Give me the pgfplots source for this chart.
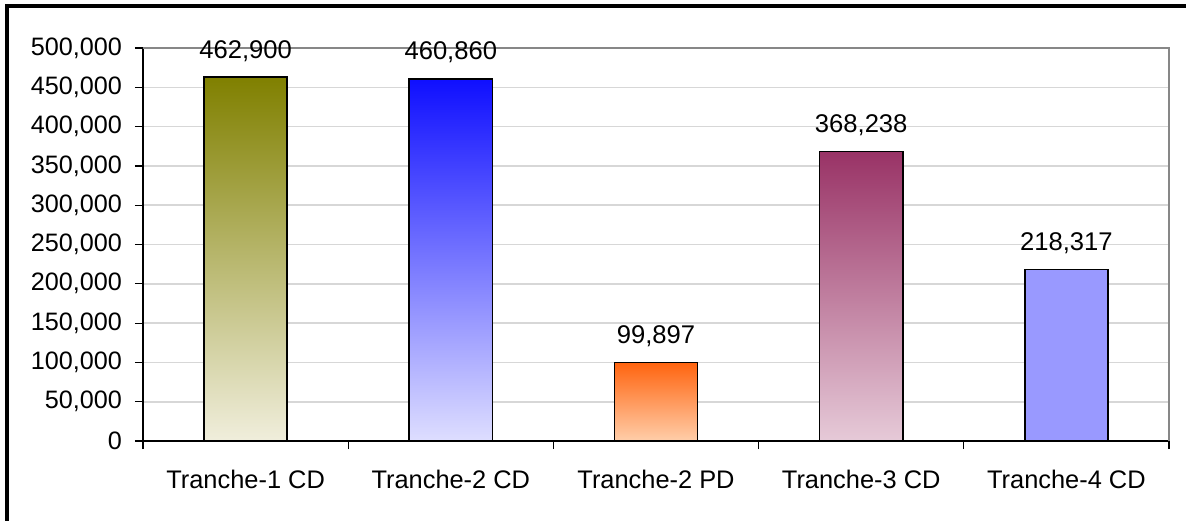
\documentclass[border=0pt]{standalone}
\usepackage{pgfplots}
\pgfplotsset{compat=1.18}
\usepackage{fontspec}
\setmainfont{Liberation Sans}
\definecolor{c1t}{RGB}{128,128,0}
\definecolor{c1m}{RGB}{182,182,140}
\definecolor{c1b}{RGB}{240,238,220}
\definecolor{c2t}{RGB}{15,15,255}
\definecolor{c2m}{RGB}{128,128,255}
\definecolor{c2b}{RGB}{222,222,255}
\definecolor{c3t}{RGB}{255,100,15}
\definecolor{c3m}{RGB}{255,155,100}
\definecolor{c3b}{RGB}{255,206,170}
\definecolor{c4t}{RGB}{153,51,102}
\definecolor{c4m}{RGB}{192,128,158}
\definecolor{c4b}{RGB}{230,202,216}
\definecolor{c5}{RGB}{153,153,255}
\definecolor{gridc}{RGB}{215,215,215}
\definecolor{framec}{RGB}{135,135,135}
\begin{document}
\begin{tikzpicture}[x=1pt,y=1pt]
\useasboundingbox (0,0) rectangle (593,260);
\draw[line width=1.6pt,black] (3.5,-5) -- (3.5,257) -- (600,257);
\begin{axis}[
  at={(71.5pt,39.5pt)}, anchor=south west,
  scale only axis, width=513pt, height=196.5pt,
  xmin=-0.5, xmax=4.5, ymin=0, ymax=500000,
  axis x line*=bottom, axis y line*=left,
  axis line style={line width=0.8pt, black},
  xtick={0,1,2,3,4},
  xticklabels={Tranche-1 CD,Tranche-2 CD,Tranche-2 PD,Tranche-3 CD,Tranche-4 CD},
  major x tick style={draw=none},
  minor xtick={-0.5,0.5,1.5,2.5,3.5,4.5},
  minor x tick style={black, line width=0.6pt},
  minor tick length=4pt,
  ytick={0,50000,...,500000},
  major tick length=4pt,
  y tick style={black, line width=0.6pt},
  tick align=outside,
  scaled y ticks=false,
  yticklabel style={/pgf/number format/fixed,/pgf/number format/1000 sep={,}, /pgf/number format/assume math mode=true, font=\fontsize{12.6}{14}\selectfont, xshift=-3pt},
  xticklabel style={font=\fontsize{12.7}{14}\selectfont, yshift=-7pt},
  ymajorgrids, grid style={gridc, line width=0.8pt},
  nodes near coords={\pgfmathprintnumber[fixed,1000 sep={,},assume math mode=true]{\pgfplotspointmeta}},
  nodes near coords style={anchor=base, inner sep=0pt, yshift=9.5pt, font=\fontsize{12.8}{14}\selectfont, black},
  point meta=explicit,
  clip=false,
]
\addplot[ybar, bar width=0.405, bar shift=0pt, draw=black, line width=0.8pt, top color=c1t, middle color=c1m, bottom color=c1b] coordinates {(0,462900) [462900]};
\addplot[ybar, bar width=0.405, bar shift=0pt, draw=black, line width=0.8pt, top color=c2t, middle color=c2m, bottom color=c2b] coordinates {(1,460860) [460860]};
\addplot[ybar, bar width=0.405, bar shift=0pt, draw=black, line width=0.8pt, top color=c3t, middle color=c3m, bottom color=c3b] coordinates {(2,99897) [99897]};
\addplot[ybar, bar width=0.405, bar shift=0pt, draw=black, line width=0.8pt, top color=c4t, middle color=c4m, bottom color=c4b] coordinates {(3,368238) [368238]};
\addplot[ybar, bar width=0.405, bar shift=0pt, draw=black, line width=0.8pt, fill=c5] coordinates {(4,218317) [218317]};
\draw[framec, line width=1pt] (rel axis cs:0,1) -- (rel axis cs:1,1) -- (rel axis cs:1,0);
\end{axis}
\end{tikzpicture}
\end{document}
